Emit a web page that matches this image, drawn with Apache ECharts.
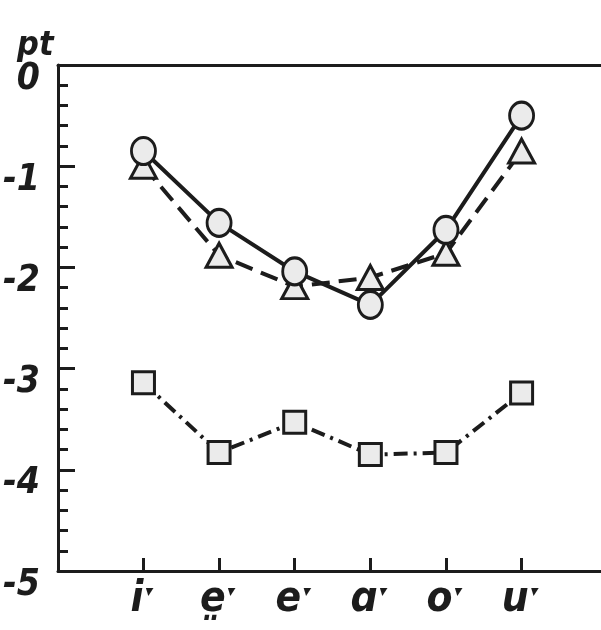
<!DOCTYPE html>
<html>
<head>
<meta charset="utf-8">
<script src="https://cdn.jsdelivr.net/npm/echarts@6/dist/echarts.min.js"></script>
<style>
  html, body { margin: 0; padding: 0; background: #ffffff; }
  #chart { width: 601px; height: 630px; }
</style>
</head>
<body>
<div id="chart"></div>
<script>
// Vowel categories (with half-length mark)
const categories = ['i\u02d1', 'e\u0324\u02d1', 'e\u02d1', '\u0251\u02d1', 'o\u02d1', 'u\u02d1'];
// pt values per series
const circleValues = [-0.85, -1.56, -2.04, -2.37, -1.63, -0.50];
const triangleValues = [-1.00, -1.88, -2.19, -2.10, -1.86, -0.85];
const squareValues = [-3.14, -3.83, -3.53, -3.85, -3.83, -3.24];
// y axis tick labels
const yTickLabels = ['0', '-1', '-2', '-3', '-4', '-5'];

const ink = '#1c1c1c';
const fill = '#ebebeb';
const font = '"Liberation Sans Narrow", "DejaVu Sans Condensed", sans-serif';
const catIdx = categories.map((c, i) => i);
const toPairs = vals => vals.map((v, i) => [i, v]);

// condensed italic lettering
const lettering = size => ({
  fontFamily: font,
  fontStyle: 'italic',
  fontWeight: 'bold',
  fontSize: size,
  color: ink
});

const chart = echarts.init(document.getElementById('chart'), null, { renderer: 'canvas' });
chart.setOption({
  backgroundColor: '#ffffff',
  animation: false,
  title: {
    text: 'pt',
    left: 12,
    top: 24,
    textStyle: lettering(34)
  },
  grid: { left: 58, right: -10, top: 65, bottom: 59, containLabel: false },
  xAxis: [
    {
      type: 'value',
      position: 'bottom',
      min: -1.13,
      max: 6.05,
      axisLine: { show: true, onZero: false, lineStyle: { color: ink, width: 3 } },
      axisTick: { show: true, inside: true, length: 13, customValues: catIdx, lineStyle: { color: ink, width: 3 } },
      axisLabel: Object.assign({
        customValues: catIdx,
        formatter: v => categories[Math.round(v)],
        margin: 8
      }, lettering(42)),
      splitLine: { show: false }
    },
    {
      type: 'value',
      position: 'top',
      min: -1.13,
      max: 6.05,
      axisLine: { show: true, onZero: false, lineStyle: { color: ink, width: 3 } },
      axisTick: { show: false },
      axisLabel: { show: false },
      splitLine: { show: false }
    }
  ],
  yAxis: {
    type: 'value',
    min: -5,
    max: 0,
    interval: 1,
    axisLine: { show: true, onZero: false, lineStyle: { color: ink, width: 3 } },
    axisTick: { show: true, inside: true, length: 17, lineStyle: { color: ink, width: 3 } },
    minorTick: { show: true, splitNumber: 5, length: 10, lineStyle: { color: ink, width: 3 } },
    axisLabel: Object.assign({
      formatter: v => yTickLabels[Math.round(-v)],
      margin: 18,
      verticalAlign: 'top',
      lineHeight: 28
    }, lettering(37)),
    splitLine: { show: false },
    minorSplitLine: { show: false }
  },
  series: [
    {
      type: 'line',
      data: toPairs(squareValues),
      symbol: 'rect',
      symbolSize: 22,
      z: 2,
      lineStyle: { color: ink, width: 4, type: [14, 6, 3, 6] },
      itemStyle: { color: fill, borderColor: ink, borderWidth: 3 }
    },
    {
      type: 'line',
      data: toPairs(triangleValues),
      symbol: 'triangle',
      symbolSize: [26, 24],
      z: 3,
      lineStyle: { color: ink, width: 4, type: [18, 9] },
      itemStyle: { color: fill, borderColor: ink, borderWidth: 3 }
    },
    {
      type: 'line',
      data: toPairs(circleValues),
      symbol: 'circle',
      symbolSize: [24, 27],
      z: 4,
      lineStyle: { color: ink, width: 4 },
      itemStyle: { color: fill, borderColor: ink, borderWidth: 3 }
    }
  ]
});
</script>
</body>
</html>
